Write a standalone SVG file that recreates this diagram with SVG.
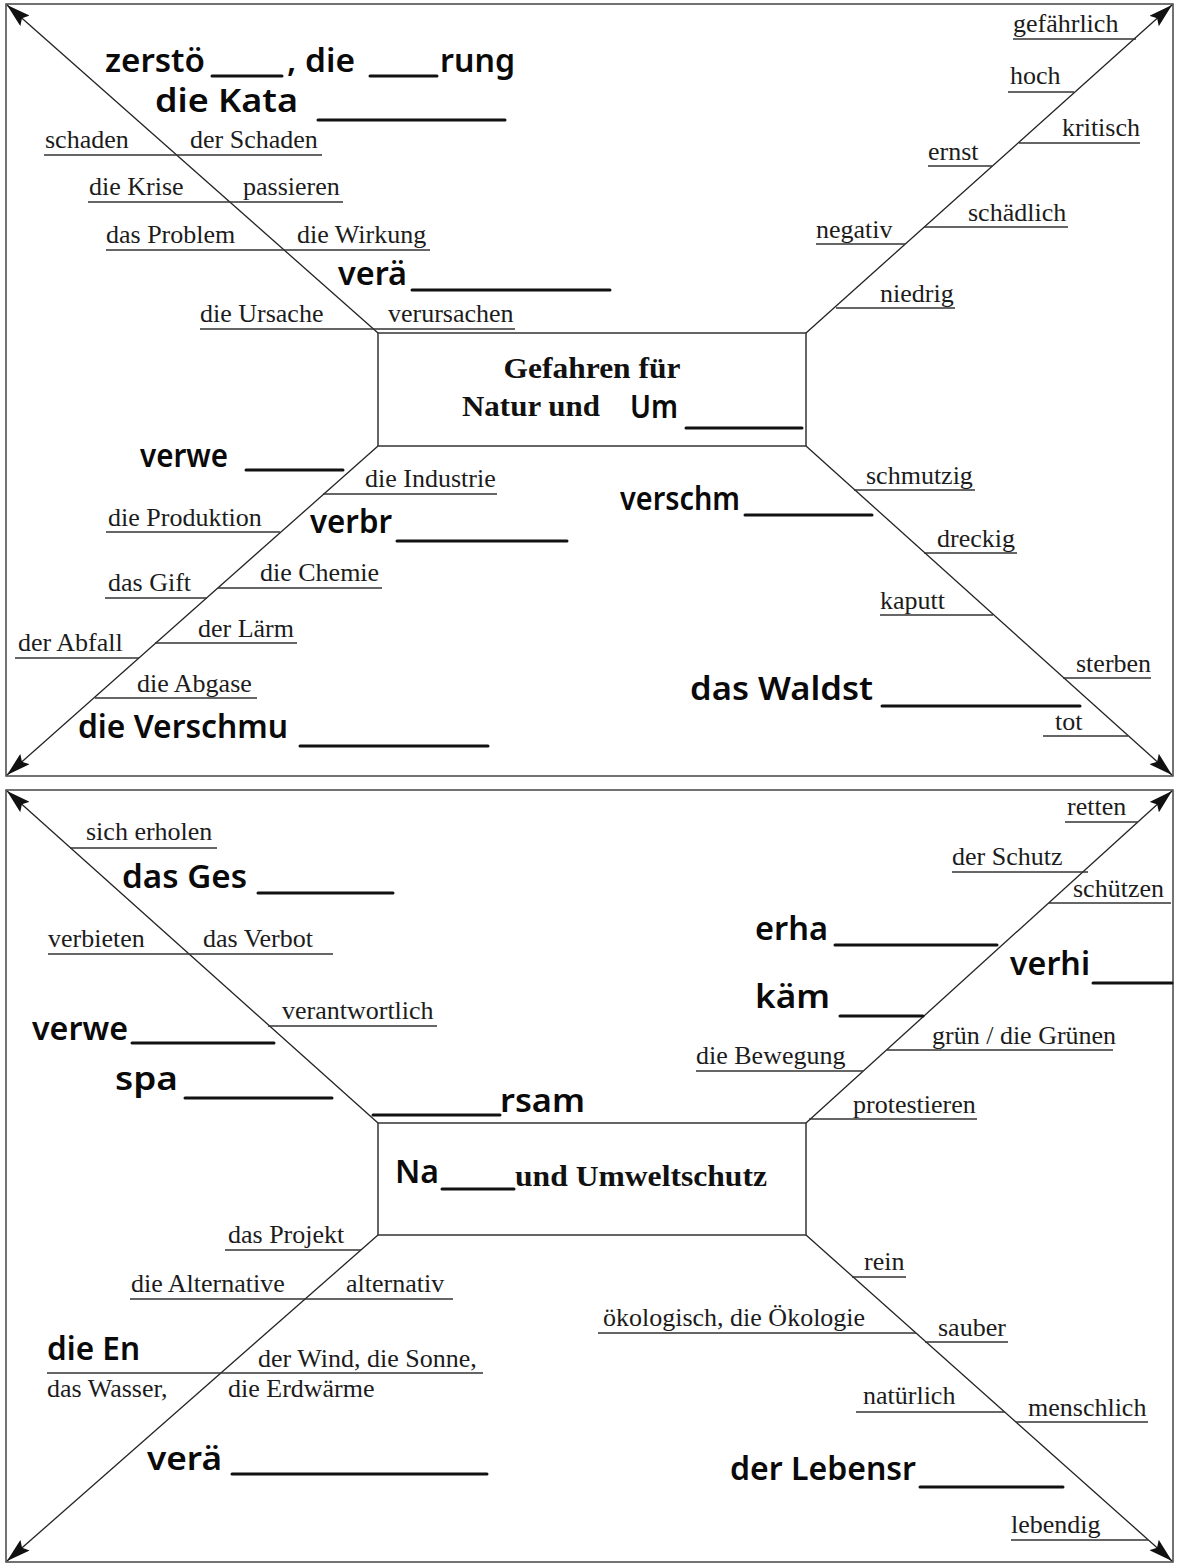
<svg xmlns="http://www.w3.org/2000/svg" width="1181" height="1564" viewBox="0 0 1181 1564">
<style>
.t{font-family:"Liberation Serif","Times New Roman",serif;font-size:26px;fill:#1c1c1c}
.b{font-family:"Liberation Serif","Times New Roman",serif;font-size:30px;font-weight:bold;fill:#111}
.h{font-family:"Noto Sans","DejaVu Sans",sans-serif;font-size:33px;font-weight:600;fill:#0a0a0a}
.u{stroke:#333;stroke-width:1.3;fill:none}
.hu{stroke:#111;stroke-width:3;stroke-linecap:round;fill:none}
.d{stroke:#222;stroke-width:1.3;fill:none}
.f{stroke:#444;stroke-width:1.5;fill:none}
.bx{stroke:#333;stroke-width:1.5;fill:#fff}
</style>
<defs>
<marker id="arr" viewBox="0 0 24 14" refX="24" refY="7" markerWidth="24" markerHeight="14" markerUnits="userSpaceOnUse" orient="auto">
<path d="M0,0 L24,7 L0,14 L4,7 z" fill="#111"/>
</marker>
</defs>
<rect width="1181" height="1564" fill="#fff"/>
<!-- frames -->
<rect class="f" x="6" y="4" width="1167" height="772"/>
<rect class="f" x="6" y="790" width="1167" height="772"/>

<!-- connectors -->
<g id="connectors">
<line class="d" x1="378" y1="333" x2="7" y2="5" marker-end="url(#arr)"/>
<line class="d" x1="806" y1="333" x2="1172" y2="5" marker-end="url(#arr)"/>
<line class="d" x1="378" y1="446" x2="7" y2="775" marker-end="url(#arr)"/>
<line class="d" x1="806" y1="446" x2="1172" y2="775" marker-end="url(#arr)"/>
<line class="d" x1="378" y1="1123" x2="7" y2="791" marker-end="url(#arr)"/>
<line class="d" x1="806" y1="1123" x2="1172" y2="791" marker-end="url(#arr)"/>
<line class="d" x1="378" y1="1235" x2="7" y2="1561" marker-end="url(#arr)"/>
<line class="d" x1="806" y1="1235" x2="1172" y2="1561" marker-end="url(#arr)"/>
</g>

<!-- central boxes -->
<g id="box-top">
<rect class="bx" x="378" y="333" width="428" height="113"/>
<text class="b" x="592" y="378" text-anchor="middle" textLength="177" lengthAdjust="spacingAndGlyphs">Gefahren für</text>
<text class="b" x="462" y="416" textLength="138" lengthAdjust="spacingAndGlyphs">Natur und</text>
<text class="h" x="630" y="418" textLength="48" lengthAdjust="spacingAndGlyphs">Um</text>
<line class="hu" x1="686" y1="428" x2="802" y2="428"/>
</g>
<g id="box-bottom">
<rect class="bx" x="378" y="1123" width="428" height="112"/>
<text class="h" x="395" y="1183" textLength="44" lengthAdjust="spacingAndGlyphs">Na</text>
<line class="hu" x1="442" y1="1189" x2="514" y2="1189"/>
<text class="b" x="515" y="1186" textLength="252" lengthAdjust="spacingAndGlyphs">und Umweltschutz</text>
</g>

<!-- top panel, upper left -->
<g id="tl-hand">
<text class="h" x="105" y="72" textLength="100" lengthAdjust="spacingAndGlyphs">zerstö</text>
<line class="hu" x1="212" y1="76" x2="282" y2="76"/>
<text class="h" x="287" y="72" textLength="68" lengthAdjust="spacingAndGlyphs">, die</text>
<line class="hu" x1="370" y1="76" x2="437" y2="76"/>
<text class="h" x="440" y="72" textLength="75" lengthAdjust="spacingAndGlyphs">rung</text>
<text class="h" x="155" y="112" textLength="143" lengthAdjust="spacingAndGlyphs">die Kata</text>
<line class="hu" x1="318" y1="120" x2="505" y2="120"/>
</g>
<g id="tl-schaden">
<text class="t" x="45" y="148">schaden</text><text class="t" x="190" y="148">der Schaden</text>
<line class="u" x1="44" y1="155" x2="322" y2="155"/>
</g>
<g id="tl-krise">
<text class="t" x="89" y="195">die Krise</text><text class="t" x="243" y="195">passieren</text>
<line class="u" x1="88" y1="202" x2="343" y2="202"/>
</g>
<g id="tl-problem">
<text class="t" x="106" y="243">das Problem</text><text class="t" x="297" y="243">die Wirkung</text>
<line class="u" x1="106" y1="250" x2="430" y2="250"/>
</g>
<g id="tl-vera">
<text class="h" x="338" y="285" textLength="69" lengthAdjust="spacingAndGlyphs">verä</text>
<line class="hu" x1="412" y1="290" x2="610" y2="290"/>
</g>
<g id="tl-ursache">
<text class="t" x="200" y="322">die Ursache</text><text class="t" x="388" y="322">verursachen</text>
<line class="u" x1="200" y1="329" x2="515" y2="329"/>
</g>

<!-- top panel, upper right -->
<g id="tr-gefaehrlich"><text class="t" x="1013" y="32">gefährlich</text><line class="u" x1="1013" y1="39" x2="1136" y2="39"/></g>
<g id="tr-hoch"><text class="t" x="1010" y="84">hoch</text><line class="u" x1="1008" y1="92" x2="1074" y2="92"/></g>
<g id="tr-kritisch"><text class="t" x="1062" y="136">kritisch</text><line class="u" x1="1019" y1="143" x2="1140" y2="143"/></g>
<g id="tr-ernst"><text class="t" x="928" y="160">ernst</text><line class="u" x1="928" y1="166" x2="992" y2="166"/></g>
<g id="tr-schaedlich"><text class="t" x="968" y="221">schädlich</text><line class="u" x1="924" y1="227" x2="1068" y2="227"/></g>
<g id="tr-negativ"><text class="t" x="816" y="238">negativ</text><line class="u" x1="816" y1="244" x2="905" y2="244"/></g>
<g id="tr-niedrig"><text class="t" x="880" y="302">niedrig</text><line class="u" x1="836" y1="308" x2="955" y2="308"/></g>

<!-- top panel, lower left -->
<g id="bl-verwe"><text class="h" x="140" y="467" textLength="88" lengthAdjust="spacingAndGlyphs">verwe</text><line class="hu" x1="246" y1="470" x2="343" y2="470"/></g>
<g id="bl-industrie"><text class="t" x="365" y="487">die Industrie</text><line class="u" x1="323" y1="494" x2="497" y2="494"/></g>
<g id="bl-produktion"><text class="t" x="108" y="526">die Produktion</text><line class="u" x1="106" y1="532" x2="280" y2="532"/></g>
<g id="bl-verbr"><text class="h" x="310" y="533" textLength="82" lengthAdjust="spacingAndGlyphs">verbr</text><line class="hu" x1="397" y1="541" x2="567" y2="541"/></g>
<g id="bl-chemie"><text class="t" x="260" y="581">die Chemie</text><line class="u" x1="218" y1="588" x2="382" y2="588"/></g>
<g id="bl-gift"><text class="t" x="108" y="591">das Gift</text><line class="u" x1="105" y1="598" x2="207" y2="598"/></g>
<g id="bl-laerm"><text class="t" x="198" y="637">der Lärm</text><line class="u" x1="155" y1="643" x2="297" y2="643"/></g>
<g id="bl-abfall"><text class="t" x="18" y="651">der Abfall</text><line class="u" x1="15" y1="658" x2="139" y2="658"/></g>
<g id="bl-abgase"><text class="t" x="137" y="692">die Abgase</text><line class="u" x1="95" y1="698" x2="257" y2="698"/></g>
<g id="bl-verschmu"><text class="h" x="78" y="738" textLength="210" lengthAdjust="spacingAndGlyphs">die Verschmu</text><line class="hu" x1="300" y1="746" x2="488" y2="746"/></g>

<!-- top panel, lower right -->
<g id="br-schmutzig"><text class="t" x="866" y="484">schmutzig</text><line class="u" x1="854" y1="490" x2="975" y2="490"/></g>
<g id="br-verschm"><text class="h" x="620" y="510" textLength="120" lengthAdjust="spacingAndGlyphs">verschm</text><line class="hu" x1="745" y1="515" x2="872" y2="515"/></g>
<g id="br-dreckig"><text class="t" x="937" y="547">dreckig</text><line class="u" x1="924" y1="553" x2="1017" y2="553"/></g>
<g id="br-kaputt"><text class="t" x="880" y="609">kaputt</text><line class="u" x1="880" y1="615" x2="993" y2="615"/></g>
<g id="br-sterben"><text class="t" x="1076" y="672">sterben</text><line class="u" x1="1063" y1="678" x2="1151" y2="678"/></g>
<g id="br-waldst"><text class="h" x="690" y="700" textLength="183" lengthAdjust="spacingAndGlyphs">das Waldst</text><line class="hu" x1="882" y1="706" x2="1080" y2="706"/></g>
<g id="br-tot"><text class="t" x="1055" y="730">tot</text><line class="u" x1="1043" y1="736" x2="1128" y2="736"/></g>

<!-- bottom panel, upper left -->
<g id="b-tl-erholen"><text class="t" x="86" y="840">sich erholen</text><line class="u" x1="70" y1="848" x2="217" y2="848"/></g>
<g id="b-tl-ges"><text class="h" x="122" y="888" textLength="125" lengthAdjust="spacingAndGlyphs">das Ges</text><line class="hu" x1="258" y1="893" x2="393" y2="893"/></g>
<g id="b-tl-verbot"><text class="t" x="48" y="947">verbieten</text><text class="t" x="203" y="947">das Verbot</text><line class="u" x1="48" y1="954" x2="333" y2="954"/></g>
<g id="b-tl-verantwortlich"><text class="t" x="282" y="1019">verantwortlich</text><line class="u" x1="268" y1="1026" x2="437" y2="1026"/></g>
<g id="b-tl-verwe"><text class="h" x="32" y="1040" textLength="96" lengthAdjust="spacingAndGlyphs">verwe</text><line class="hu" x1="132" y1="1043" x2="274" y2="1043"/></g>
<g id="b-tl-spa"><text class="h" x="115" y="1090" textLength="63" lengthAdjust="spacingAndGlyphs">spa</text><line class="hu" x1="185" y1="1098" x2="332" y2="1098"/></g>
<g id="b-tl-rsam"><line class="hu" x1="373" y1="1115" x2="500" y2="1115"/><text class="h" x="500" y="1112" textLength="85" lengthAdjust="spacingAndGlyphs">rsam</text></g>

<!-- bottom panel, upper right -->
<g id="b-tr-retten"><text class="t" x="1067" y="815">retten</text><line class="u" x1="1065" y1="822" x2="1138" y2="822"/></g>
<g id="b-tr-schutz"><text class="t" x="952" y="865">der Schutz</text><line class="u" x1="952" y1="872" x2="1088" y2="872"/></g>
<g id="b-tr-schuetzen"><text class="t" x="1073" y="897">schützen</text><line class="u" x1="1049" y1="903" x2="1171" y2="903"/></g>
<g id="b-tr-erha"><text class="h" x="755" y="940" textLength="73" lengthAdjust="spacingAndGlyphs">erha</text><line class="hu" x1="835" y1="945" x2="997" y2="945"/></g>
<g id="b-tr-verhi"><text class="h" x="1010" y="975" textLength="80" lengthAdjust="spacingAndGlyphs">verhi</text><line class="hu" x1="1093" y1="983" x2="1172" y2="983"/></g>
<g id="b-tr-kaem"><text class="h" x="755" y="1008" textLength="75" lengthAdjust="spacingAndGlyphs">käm</text><line class="hu" x1="840" y1="1016" x2="923" y2="1016"/></g>
<g id="b-tr-gruen"><text class="t" x="932" y="1044">grün / die Grünen</text><line class="u" x1="887" y1="1050" x2="1113" y2="1050"/></g>
<g id="b-tr-bewegung"><text class="t" x="696" y="1064">die Bewegung</text><line class="u" x1="696" y1="1071" x2="863" y2="1071"/></g>
<g id="b-tr-protestieren"><text class="t" x="853" y="1113">protestieren</text><line class="u" x1="809" y1="1119" x2="977" y2="1119"/></g>

<!-- bottom panel, lower left -->
<g id="b-bl-projekt"><text class="t" x="228" y="1243">das Projekt</text><line class="u" x1="225" y1="1250" x2="361" y2="1250"/></g>
<g id="b-bl-alternative"><text class="t" x="131" y="1292">die Alternative</text><text class="t" x="346" y="1292">alternativ</text><line class="u" x1="130" y1="1299" x2="453" y2="1299"/></g>
<g id="b-bl-energie">
<text class="h" x="47" y="1360" textLength="93" lengthAdjust="spacingAndGlyphs">die En</text>
<text class="t" x="258" y="1367">der Wind, die Sonne,</text>
<line class="u" x1="47" y1="1373" x2="483" y2="1373"/>
<text class="t" x="47" y="1397">das Wasser,</text>
<text class="t" x="228" y="1397">die Erdwärme</text>
</g>
<g id="b-bl-vera"><text class="h" x="147" y="1470" textLength="75" lengthAdjust="spacingAndGlyphs">verä</text><line class="hu" x1="232" y1="1474" x2="487" y2="1474"/></g>

<!-- bottom panel, lower right -->
<g id="b-br-rein"><text class="t" x="864" y="1270">rein</text><line class="u" x1="852" y1="1277" x2="906" y2="1277"/></g>
<g id="b-br-oekologie"><text class="t" x="603" y="1326">ökologisch, die Ökologie</text><line class="u" x1="598" y1="1333" x2="916" y2="1333"/></g>
<g id="b-br-sauber"><text class="t" x="938" y="1336">sauber</text><line class="u" x1="925" y1="1342" x2="1008" y2="1342"/></g>
<g id="b-br-natuerlich"><text class="t" x="863" y="1404">natürlich</text><line class="u" x1="856" y1="1412" x2="1005" y2="1412"/></g>
<g id="b-br-menschlich"><text class="t" x="1028" y="1416">menschlich</text><line class="u" x1="1016" y1="1422" x2="1148" y2="1422"/></g>
<g id="b-br-lebensr"><text class="h" x="730" y="1480" textLength="186" lengthAdjust="spacingAndGlyphs">der Lebensr</text><line class="hu" x1="920" y1="1487" x2="1063" y2="1487"/></g>
<g id="b-br-lebendig"><text class="t" x="1011" y="1533">lebendig</text><line class="u" x1="1011" y1="1540" x2="1148" y2="1540"/></g>
</svg>
